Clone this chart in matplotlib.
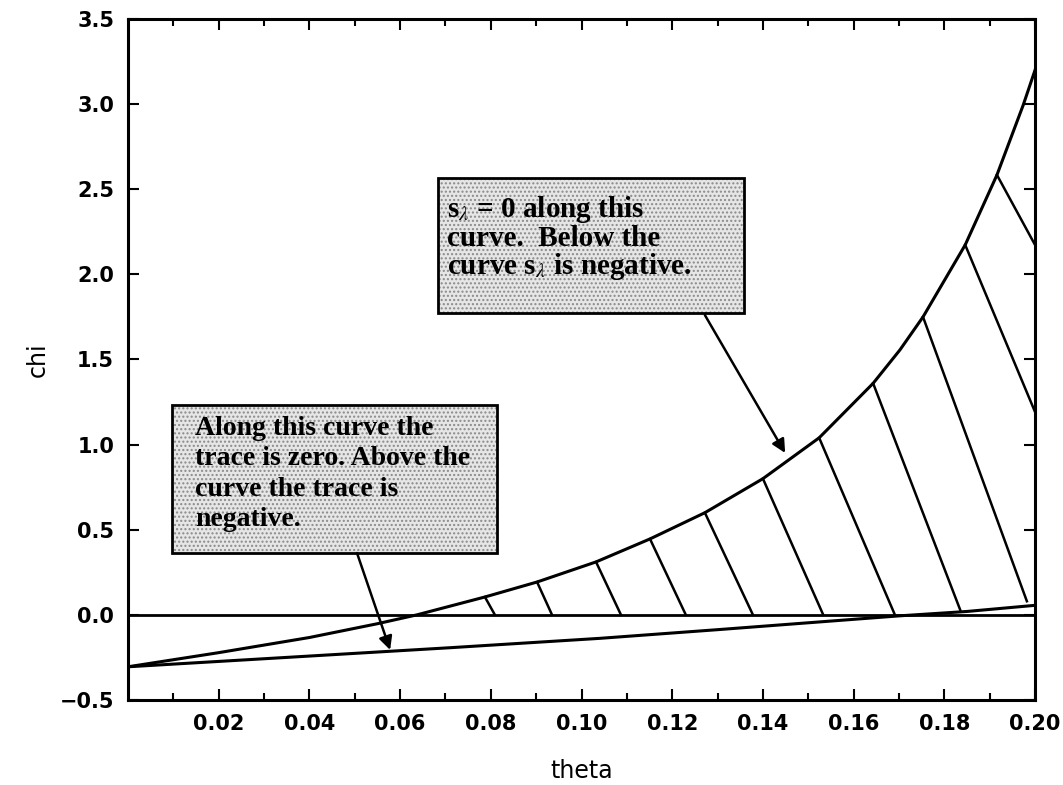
import numpy as np
import matplotlib
matplotlib.use("Agg")
import matplotlib.pyplot as plt
from matplotlib.patches import Rectangle

plt.rcParams['mathtext.fontset'] = 'stix'

# curve where s_lambda = 0
theta_s = [0.0, 0.020, 0.040, 0.055, 0.0637, 0.0787, 0.0902, 0.1032, 0.1151, 0.1272,
           0.140, 0.1524, 0.1643, 0.1702, 0.1753, 0.1846, 0.1916, 0.1974, 0.2]
chi_s = [-0.305, -0.222, -0.133, -0.052, 0.0, 0.105, 0.193, 0.311, 0.446, 0.600,
         0.800, 1.040, 1.360, 1.556, 1.750, 2.173, 2.584, 2.995, 3.2]

# curve where the trace is zero
theta_t = [0.0, 0.040, 0.071, 0.104, 0.1305, 0.170, 0.185, 0.2]
chi_t = [-0.305, -0.242, -0.193, -0.138, -0.086, -0.006, 0.020, 0.056]

# hatch segments (top theta, top chi, bottom theta, bottom chi)
hatch_t0 = [0.0787, 0.0902, 0.1032, 0.1151, 0.1272, 0.140, 0.1524, 0.1643, 0.1753, 0.1846, 0.1916]
hatch_c0 = [0.105, 0.193, 0.311, 0.446, 0.600, 0.800, 1.040, 1.360, 1.750, 2.173, 2.584]
hatch_t1 = [0.0809, 0.0935, 0.1087, 0.1230, 0.1378, 0.1533, 0.1691, 0.1835, 0.1982, 0.2, 0.2]
hatch_c1 = [0.0, 0.0, 0.0, 0.0, 0.0, 0.0, 0.0, 0.029, 0.080, 1.192, 2.173]

major_x = [0.02, 0.04, 0.06, 0.08, 0.10, 0.12, 0.14, 0.16, 0.18, 0.20]
major_y = [-0.5, 0.0, 0.5, 1.0, 1.5, 2.0, 2.5, 3.0, 3.5]

fig = plt.figure(figsize=(10.63, 7.85), dpi=100)
ax = fig.add_axes([0.1204, 0.1083, 0.8533, 0.8675])

ax.axhline(0.0, color='black', lw=2.0)
ax.plot(theta_s, chi_s, color='black', lw=2.2, solid_joinstyle='round')
ax.plot(theta_t, chi_t, color='black', lw=2.2, solid_joinstyle='round')
for i in range(len(hatch_t0)):
    ax.plot([hatch_t0[i], hatch_t1[i]], [hatch_c0[i], hatch_c1[i]], color='black', lw=1.8)

# annotation boxes
def note_box(x0, y0, x1, y1):
    ax.add_patch(Rectangle((x0, y0), x1 - x0, y1 - y0, facecolor='#e6e6e6',
                           edgecolor='#8a8a8a', hatch='....', lw=0, zorder=4))
    ax.add_patch(Rectangle((x0, y0), x1 - x0, y1 - y0, facecolor='none',
                           edgecolor='black', lw=2.0, zorder=5))

note_box(0.0684, 1.773, 0.1359, 2.566)
note_box(0.0097, 0.363, 0.0814, 1.233)

serif = dict(family='Liberation Serif', weight='bold', zorder=6)
ax.text(0.0703, 2.47, "s$_{\\lambda}$ = 0 along this\ncurve.  Below the\ncurve s$_{\\lambda}$ is negative.",
        ha='left', va='top', linespacing=0.97, size=21, **serif)
ax.text(0.0148, 1.17, "Along this curve the\ntrace is zero. Above the\ncurve the trace is\nnegative.",
        ha='left', va='top', linespacing=1.29, size=20, **serif)

arrow = dict(arrowstyle='-|>', color='black', lw=1.8, mutation_scale=20, shrinkA=0, shrinkB=0)
ax.annotate('', xy=(0.1449, 0.951), xytext=(0.1272, 1.761), arrowprops=arrow, zorder=6)
ax.annotate('', xy=(0.0578, -0.206), xytext=(0.0505, 0.363), arrowprops=arrow, zorder=6)

ax.set_xlim(0.0, 0.2)
ax.set_ylim(-0.5, 3.5)
ax.set_xticks(major_x)
ax.set_xticklabels(['%.2f' % v for v in major_x])
ax.set_xticks(np.arange(0.01, 0.2, 0.02), minor=True)
ax.set_yticks(major_y)
ax.set_yticklabels([('%.1f' % v).replace('-', '\u2212') for v in major_y])
ax.tick_params(which='both', direction='in', top=True, right=True, width=1.5)
ax.tick_params(which='major', length=8, pad=10)
ax.tick_params(which='minor', length=5)
for lab in ax.get_xticklabels() + ax.get_yticklabels():
    lab.set_fontweight('bold')
    lab.set_fontsize(15)
for s in ax.spines.values():
    s.set_linewidth(2.2)

ax.set_xlabel('theta', fontsize=17, labelpad=18)
ax.set_ylabel('chi', fontsize=17, labelpad=7)

fig.savefig('out.png', dpi=100)
